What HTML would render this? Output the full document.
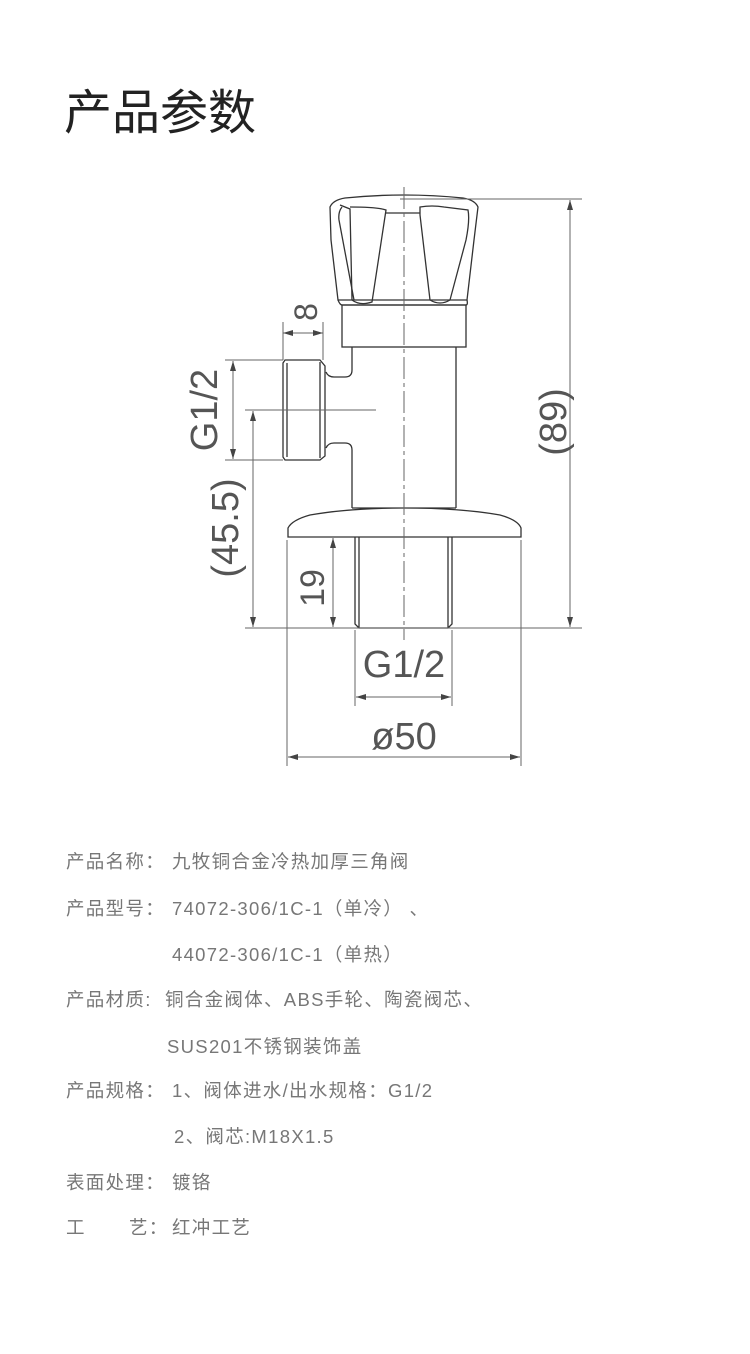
<!DOCTYPE html>
<html><head><meta charset="utf-8"><style>
html,body{margin:0;padding:0;background:#fff;}
body{width:750px;height:1354px;position:relative;overflow:hidden;font-family:"Liberation Sans","Noto Sans CJK SC",sans-serif;}
.t{position:absolute;font-size:18.5px;color:#777;white-space:pre;line-height:20px;letter-spacing:1.3px;}
h1{position:absolute;left:64px;top:86px;margin:0;font-weight:normal;font-size:48px;line-height:56px;color:#222;}
</style></head><body>
<h1>产品参数</h1>
<svg width="750" height="800" style="position:absolute;left:0;top:0" xmlns="http://www.w3.org/2000/svg">
<defs><marker id="a" markerWidth="10" markerHeight="6" refX="10" refY="3" orient="auto-start-reverse" markerUnits="userSpaceOnUse"><path d="M0,0 L10,3 L0,6 z" fill="#444"/></marker></defs>
<g fill="none" stroke="#333" stroke-width="1.3">
<path d="M330,207 Q333,200 345,198 Q404,192 463,198 Q475,200 478,207 L474,240 L467,300 L338,300 L331,240 Z"/>
<path d="M340,205 Q345,207 350,209 L352,300 Q360,306 372,302 L386,210 Q378,207 350,207"/>
<path d="M342,207 Q338,212 339,220 L354,300"/>
<path d="M420,207 Q432,205 444,207 L468,210 Q470,220 466,240 L450,300 Q440,306 430,300 L420,215 Z"/>
<path d="M386,213 L420,213"/>
<path d="M338,300 Q340,305 342,305 L466,305 Q468,305 467,300"/>
<rect x="342" y="305" width="124" height="42"/>
<path d="M352,347 L352,370 Q352,377 345,377 L334,377 Q328,377 326,372 M326,448 Q328,443 334,443 L345,443 Q352,443 352,450 L352,508"/>
<path d="M456,347 L456,508"/>
<path d="M285,360 L320,360 L325,366 L325,456 L320,460 L285,460 L283,457 L283,363 Z"/>
<path d="M287,363 L287,457 M320,362 L320,458"/>
<path d="M352,508 L456,508 M288,537 L288,528 Q292,520 310,515 Q350,508 404,508 Q460,508 500,515 Q518,520 521,528 L521,537 Z"/>
<path d="M355,537 L355,624 L359,628 L448,628 L452,624 L452,537 M359,537 L359,628 M448,537 L448,628"/>
</g>
<g fill="none" stroke="#666" stroke-width="1">
<line x1="404" y1="187" x2="404" y2="640" stroke-dasharray="22,4,4,4"/>
<line x1="245" y1="410" x2="376" y2="410"/>
<line x1="245" y1="628" x2="582" y2="628"/>
<line x1="400" y1="199" x2="582" y2="199"/>
<line x1="570" y1="200" x2="570" y2="627" marker-start="url(#a)" marker-end="url(#a)"/>
<line x1="283" y1="322" x2="283" y2="360"/><line x1="323" y1="322" x2="323" y2="360"/>
<line x1="283" y1="333" x2="323" y2="333" marker-start="url(#a)" marker-end="url(#a)"/>
<line x1="225" y1="360" x2="283" y2="360"/><line x1="225" y1="460" x2="283" y2="460"/>
<line x1="233" y1="361" x2="233" y2="459" marker-start="url(#a)" marker-end="url(#a)"/>
<line x1="253" y1="411" x2="253" y2="627" marker-start="url(#a)" marker-end="url(#a)"/>
<line x1="333" y1="538" x2="333" y2="627" marker-start="url(#a)" marker-end="url(#a)"/>
<line x1="355" y1="630" x2="355" y2="706"/><line x1="452" y1="630" x2="452" y2="706"/>
<line x1="356" y1="697" x2="451" y2="697" marker-start="url(#a)" marker-end="url(#a)"/>
<line x1="287" y1="540" x2="287" y2="766"/><line x1="521" y1="540" x2="521" y2="766"/>
<line x1="288" y1="757" x2="520" y2="757" marker-start="url(#a)" marker-end="url(#a)"/>
</g>
<g fill="#555" font-family="Liberation Sans, sans-serif">
<text x="404" y="677" font-size="38" text-anchor="middle">G1/2</text>
<text x="404" y="749" font-size="38" text-anchor="middle">ø50</text>
<text transform="translate(317,312) rotate(-90)" font-size="32" text-anchor="middle">8</text>
<text transform="translate(217,410) rotate(-90)" font-size="38" text-anchor="middle">G1/2</text>
<text transform="translate(238,528) rotate(-90)" font-size="38" text-anchor="middle">(45.5)</text>
<text transform="translate(324,588) rotate(-90)" font-size="34" text-anchor="middle">19</text>
<text transform="translate(566,422) rotate(-90)" font-size="38" text-anchor="middle">(89)</text>
</g>
</svg>
<div class="t" style="left:66px;top:852px">产品名称：</div><div class="t" style="left:172px;top:852px">九牧铜合金冷热加厚三角阀</div>
<div class="t" style="left:66px;top:899px">产品型号：</div><div class="t" style="left:172px;top:899px">74072-306/1C-1（单冷） 、</div>
<div class="t" style="left:172px;top:945px">44072-306/1C-1（单热）</div>
<div class="t" style="left:66px;top:990px">产品材质:</div><div class="t" style="left:165px;top:990px">铜合金阀体、ABS手轮、陶瓷阀芯、</div>
<div class="t" style="left:167px;top:1037px">SUS201不锈钢装饰盖</div>
<div class="t" style="left:66px;top:1081px">产品规格：</div><div class="t" style="left:172px;top:1081px">1、阀体进水/出水规格：G1/2</div>
<div class="t" style="left:174px;top:1127px">2、阀芯:M18X1.5</div>
<div class="t" style="left:66px;top:1173px">表面处理：</div><div class="t" style="left:172px;top:1173px">镀铬</div>
<div class="t" style="left:66px;top:1218px">工</div><div class="t" style="left:129px;top:1218px">艺：</div><div class="t" style="left:172px;top:1218px">红冲工艺</div>
</body></html>
